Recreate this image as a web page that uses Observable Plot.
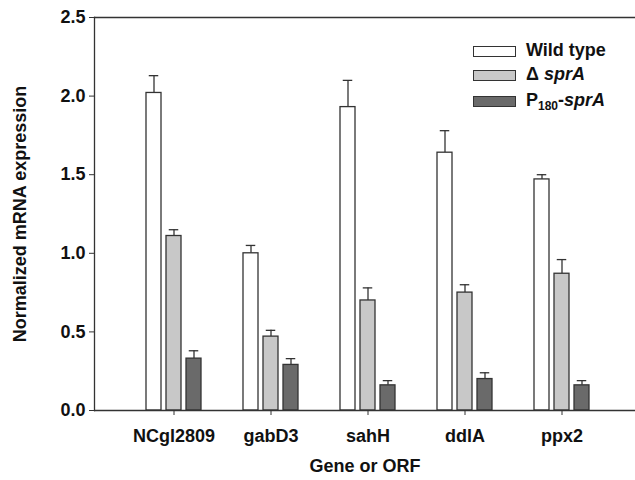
<!DOCTYPE html>
<html>
<head>
<meta charset="utf-8">
<script src="https://cdn.jsdelivr.net/npm/d3@7"></script>
<script src="https://cdn.jsdelivr.net/npm/@observablehq/plot@0.6"></script>
<style>
  html, body { margin: 0; padding: 0; background: #fff; }
  #wrap { position: relative; width: 635px; height: 480px; font-family: "Liberation Sans", Arial, sans-serif; }
  #wrap svg { position: absolute; left: 0; top: 0; }
  .leg { position: absolute; left: 473px; font-weight: bold; font-size: 18px; color: #111; }
  .leg .row { position: absolute; left: 0; white-space: nowrap; height: 20px; }
  .leg .sw { position: absolute; left: 0; top: 0; width: 41px; height: 9px; border: 1.3px solid #333; }
  .leg .lab { position: absolute; left: 53px; top: -6px; line-height: 20px; }
  .leg sub { font-size: 12px; vertical-align: -4px; line-height: 0; }
</style>
</head>
<body>
<div id="wrap"></div>
<script>
const genes = ["NCgl2809", "gabD3", "sahH", "ddlA", "ppx2"];
const seriesNames = ["Wild type", "ΔsprA", "P180-sprA"];
const wildType = [2.02, 1.00, 1.93, 1.64, 1.47];
const wildTypeErr = [0.11, 0.05, 0.17, 0.14, 0.03];
const deltaSprA = [1.11, 0.47, 0.70, 0.75, 0.87];
const deltaSprAErr = [0.04, 0.04, 0.08, 0.05, 0.09];
const p180SprA = [0.33, 0.29, 0.16, 0.20, 0.16];
const p180SprAErr = [0.05, 0.04, 0.03, 0.04, 0.03];
const yTicks = [0, 0.5, 1.0, 1.5, 2.0, 2.5];

const fills = ["#ffffff", "#c8c8c8", "#6a6a6a"];
const offsets = [-20, 0, 20];
const values = [wildType, deltaSprA, p180SprA];
const errs = [wildTypeErr, deltaSprAErr, p180SprAErr];

const font = '"Liberation Sans", Arial, sans-serif';
const step = 97.5;
const barW = 15.5;
const capW = 10;

const marks = [];
values.forEach((vals, s) => {
  const data = genes.map((g, i) => ({gene: g, value: vals[i], top: vals[i] + errs[s][i]}));
  marks.push(Plot.ruleX(data, {x: "gene", y1: "value", y2: "top", dx: offsets[s], stroke: "#333", strokeWidth: 1.3}));
  marks.push(Plot.tickY(data, {x: "gene", y: "top", dx: offsets[s], stroke: "#333", strokeWidth: 1.3,
    insetLeft: (step - capW) / 2, insetRight: (step - capW) / 2}));
  marks.push(Plot.barY(data, {x: "gene", y: "value", dx: offsets[s], fill: fills[s], stroke: "#333", strokeWidth: 1.3,
    insetLeft: (step - barW) / 2, insetRight: (step - barW) / 2}));
});

const chart = Plot.plot({
  width: 635,
  height: 480,
  marginLeft: 94,
  marginRight: 0,
  marginTop: 17,
  marginBottom: 70,
  style: {fontFamily: font, background: "transparent", color: "#111"},
  x: {domain: genes, range: [172.5 - step / 2, 562.5 + step / 2], padding: 0},
  y: {domain: [0, 2.5]},
  marks: [
    ...marks,
    Plot.ruleY([0, 2.5], {stroke: "#333", strokeWidth: 1.3}),
    Plot.frame({anchor: "left", stroke: "#333", strokeWidth: 1.3}),
    Plot.axisY({ticks: yTicks, tickFormat: d3.format(".1f"), tickSize: 5, tickPadding: 4,
      fontSize: 18, fontWeight: "bold", label: null, stroke: "#333"}),
    Plot.axisX({tickSize: 5, tickPadding: 14, fontSize: 18, fontWeight: "bold", label: null, stroke: "#333"}),
    Plot.text(["Gene or ORF"], {frameAnchor: "bottom", lineAnchor: "middle", dy: 56, fontSize: 18, fontWeight: "bold", fill: "#111"}),
    Plot.text(["Normalized mRNA expression"], {frameAnchor: "left", textAnchor: "middle", lineAnchor: "middle",
      dx: -74, rotate: -90, fontSize: 18, fontWeight: "bold", fill: "#111"})
  ]
});

const wrap = document.getElementById("wrap");
wrap.appendChild(chart);

const leg = document.createElement("div");
leg.className = "leg";
leg.style.top = "0px";
const labels = [
  "Wild type",
  "\u0394 <i>sprA</i>",
  "P<sub>180</sub>-<i>sprA</i>"
];
const tops = [46, 70, 96];
labels.forEach((html, i) => {
  const row = document.createElement("div");
  row.className = "row";
  row.style.top = tops[i] + "px";
  row.innerHTML = `<div class="sw" style="background:${fills[i]}"></div><div class="lab" title="${seriesNames[i]}">${html}</div>`;
  leg.appendChild(row);
});
wrap.appendChild(leg);
</script>
</body>
</html>
